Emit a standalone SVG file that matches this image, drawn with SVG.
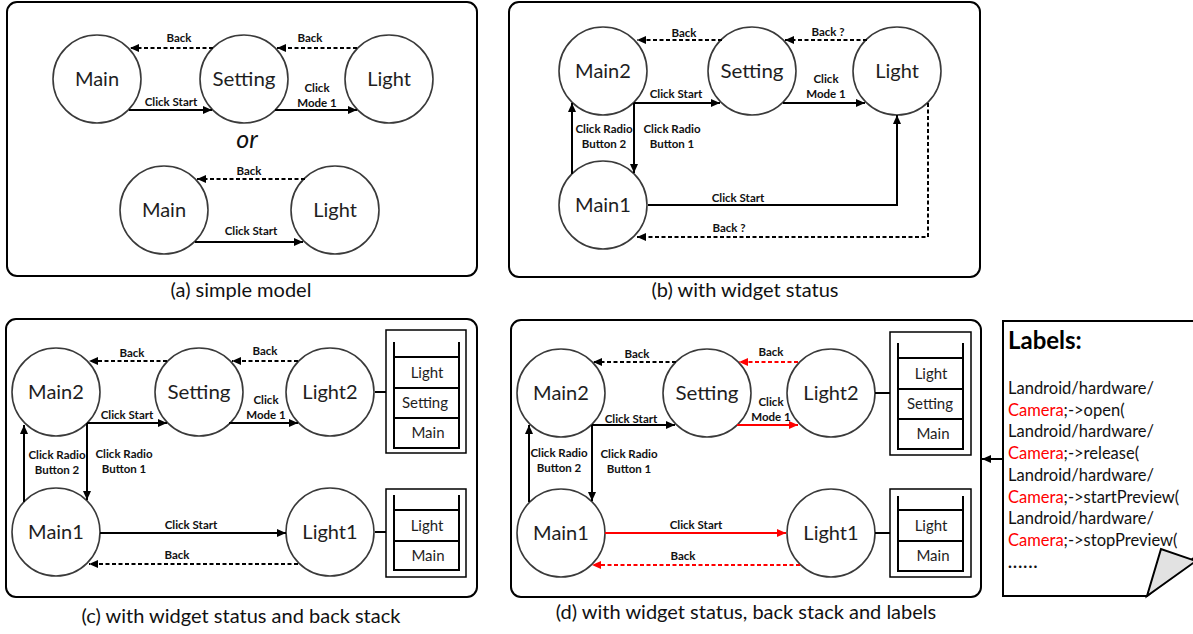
<svg xmlns="http://www.w3.org/2000/svg" width="1193" height="634" viewBox="0 0 1193 634">
  <defs>
    <marker id="ah" markerUnits="userSpaceOnUse" markerWidth="9" markerHeight="8" refX="9" refY="4" orient="auto">
      <path d="M0,0 L9,4 L0,8 z" fill="#000"/>
    </marker>
    <marker id="ahr" markerUnits="userSpaceOnUse" markerWidth="9" markerHeight="8" refX="9" refY="4" orient="auto">
      <path d="M0,0 L9,4 L0,8 z" fill="#f00"/>
    </marker>
  </defs>
  <style>
    .panel { fill: #fff; stroke: #000; stroke-width: 2; }
    .node circle { fill: #fff; stroke: #3a3a3a; stroke-width: 1.6; }
    .nt { font-family: Lato, "Liberation Sans", sans-serif; font-size: 20px; text-anchor: middle; fill: #1e1e1e; }
    .lb { font-family: Lato, "Liberation Sans", sans-serif; font-size: 11.5px; font-weight: bold; text-anchor: middle; fill: #111; }
    .cap { font-family: Lato, "Liberation Sans", sans-serif; font-size: 20px; text-anchor: middle; fill: #111; }
    .st { font-family: Lato, "Liberation Sans", sans-serif; font-size: 15px; text-anchor: middle; fill: #1e1e1e; }
    .ln { font-family: Lato, "Liberation Sans", sans-serif; font-size: 16.5px; fill: #111; }
    .edge { fill: none; stroke: #000; stroke-width: 2; marker-end: url(#ah); }
    .dash { stroke-dasharray: 4 2.5; }
    .red { stroke: #f00; marker-end: url(#ahr); }
    .plain { fill: none; stroke: #000; stroke-width: 2; }
    .outer { fill: #fff; stroke: #000; stroke-width: 1.5; }
  </style>

  <!-- panel frames -->
  <rect class="panel" x="7" y="2" width="470" height="274" rx="10"/>
  <rect class="panel" x="509" y="2" width="471" height="275" rx="10"/>
  <rect class="panel" x="6" y="319" width="471" height="278" rx="10"/>
  <rect class="panel" x="511" y="320" width="470" height="277" rx="10"/>

  <!-- (a) simple model -->
  <g id="a-main"><g class="node"><circle cx="97" cy="79" r="44"/></g><text class="nt" x="97" y="86">Main</text></g>
  <g id="a-setting"><g class="node"><circle cx="244" cy="79" r="44"/></g><text class="nt" x="244" y="86" textLength="63" lengthAdjust="spacingAndGlyphs">Setting</text></g>
  <g id="a-light"><g class="node"><circle cx="389" cy="79" r="44"/></g><text class="nt" x="389" y="86">Light</text></g>
  <g id="a-main-b"><g class="node"><circle cx="164" cy="210" r="44"/></g><text class="nt" x="164" y="217">Main</text></g>
  <g id="a-light-b"><g class="node"><circle cx="335" cy="210" r="44"/></g><text class="nt" x="335" y="217">Light</text></g>
  <text x="247" y="148" font-family="Lato, 'Liberation Sans', sans-serif" font-size="25" font-style="italic" text-anchor="middle" fill="#111">or</text>
  <text class="cap" x="241" y="297">(a) simple model</text>

  <g id="a-edges">
    <path class="edge dash" d="M213,48 H130"/>
    <path class="edge dash" d="M357,48 H277"/>
    <path class="edge" d="M129,110 H212"/>
    <path class="edge" d="M275,110 H357"/>
    <path class="edge dash" d="M305,179 H197"/>
    <path class="edge" d="M195,242 H303"/>
    <text class="lb" x="179" y="42">Back</text>
    <text class="lb" x="310" y="42">Back</text>
    <text class="lb" x="171" y="106">Click Start</text>
    <text class="lb" x="317" y="92">Click</text>
    <text class="lb" x="317" y="107">Mode 1</text>
    <text class="lb" x="249" y="175">Back</text>
    <text class="lb" x="251" y="235">Click Start</text>
  </g>

  <!-- (b) with widget status -->
  <g id="b-main2"><g class="node"><circle cx="603" cy="71" r="44"/></g><text class="nt" x="603" y="78">Main2</text></g>
  <g id="b-setting"><g class="node"><circle cx="752" cy="71" r="44"/></g><text class="nt" x="752" y="78" textLength="63" lengthAdjust="spacingAndGlyphs">Setting</text></g>
  <g id="b-light"><g class="node"><circle cx="897" cy="71" r="44"/></g><text class="nt" x="897" y="78">Light</text></g>
  <g id="b-main1"><g class="node"><circle cx="603" cy="205" r="44"/></g><text class="nt" x="603" y="212">Main1</text></g>
  <text class="cap" x="745" y="297">(b) with widget status</text>

  <g id="b-edges">
    <path class="edge dash" d="M722,40 H637"/>
    <path class="edge dash" d="M867,40 H785"/>
    <path class="edge" d="M634,103 H720"/>
    <path class="edge" d="M783,103 H865"/>
    <path class="edge" d="M634,103 V173"/>
    <path class="edge" d="M572,174 V103"/>
    <path class="edge" d="M648,205 H897 V115"/>
    <path class="edge dash" d="M928,103 V237 H637"/>
    <text class="lb" x="684" y="37">Back</text>
    <text class="lb" x="828" y="36">Back ?</text>
    <text class="lb" x="676" y="98">Click Start</text>
    <text class="lb" x="826" y="83">Click</text>
    <text class="lb" x="826" y="98">Mode 1</text>
    <text class="lb" x="672" y="133">Click Radio</text>
    <text class="lb" x="672" y="148">Button 1</text>
    <text class="lb" x="604" y="133">Click Radio</text>
    <text class="lb" x="604" y="148">Button 2</text>
    <text class="lb" x="738" y="202">Click Start</text>
    <text class="lb" x="729" y="232">Back ?</text>
  </g>

  <!-- (c) with widget status and back stack -->
  <g id="c-main2"><g class="node"><circle cx="56" cy="392" r="44"/></g><text class="nt" x="56" y="399">Main2</text></g>
  <g id="c-setting"><g class="node"><circle cx="199" cy="392" r="44"/></g><text class="nt" x="199" y="399" textLength="63" lengthAdjust="spacingAndGlyphs">Setting</text></g>
  <g id="c-light2"><g class="node"><circle cx="330" cy="392" r="44"/></g><text class="nt" x="330" y="399">Light2</text></g>
  <g id="c-main1"><g class="node"><circle cx="56" cy="532" r="44"/></g><text class="nt" x="56" y="539">Main1</text></g>
  <g id="c-light1"><g class="node"><circle cx="330" cy="532" r="44"/></g><text class="nt" x="330" y="539">Light1</text></g>
  <g id="c-stack2">
    <rect class="outer" x="386" y="330" width="80" height="123"/>
    <path class="plain" d="M394,342 V448 H459 V342 M394,357 H459 M394,388 H459 M394,418 H459"/>
    <text class="st" x="427" y="378">Light</text>
    <text class="st" x="425" y="408">Setting</text>
    <text class="st" x="428" y="438">Main</text>
  </g>
  <g id="c-stack1">
    <rect class="outer" x="386" y="489" width="80" height="88"/>
    <path class="plain" d="M394,495 V570 H459 V495 M394,510 H459 M394,541 H459"/>
    <text class="st" x="427" y="531">Light</text>
    <text class="st" x="428" y="561">Main</text>
  </g>
  <text class="cap" x="241" y="623">(c) with widget status and back stack</text>

  <g id="c-edges">
    <path class="edge dash" d="M167,361 H89"/>
    <path class="edge dash" d="M298,361 H232"/>
    <path class="edge" d="M87,423 H167"/>
    <path class="edge" d="M229,423 H298"/>
    <path class="edge" d="M87,423 V500"/>
    <path class="edge" d="M24,502 V425"/>
    <path class="edge" d="M100,533 H286"/>
    <path class="edge dash" d="M298,564 H89"/>
    <path class="plain" d="M375,392 H386 M375,532 H386"/>
    <text class="lb" x="132" y="357">Back</text>
    <text class="lb" x="265" y="355">Back</text>
    <text class="lb" x="127" y="419">Click Start</text>
    <text class="lb" x="266" y="404">Click</text>
    <text class="lb" x="266" y="419">Mode 1</text>
    <text class="lb" x="124" y="458">Click Radio</text>
    <text class="lb" x="124" y="473">Button 1</text>
    <text class="lb" x="57" y="459">Click Radio</text>
    <text class="lb" x="57" y="474">Button 2</text>
    <text class="lb" x="191" y="529">Click Start</text>
    <text class="lb" x="177" y="559">Back</text>
  </g>

  <!-- (d) with widget status, back stack and labels -->
  <g id="d-main2"><g class="node"><circle cx="561" cy="393" r="44"/></g><text class="nt" x="561" y="400">Main2</text></g>
  <g id="d-setting"><g class="node"><circle cx="707" cy="393" r="44"/></g><text class="nt" x="707" y="400" textLength="63" lengthAdjust="spacingAndGlyphs">Setting</text></g>
  <g id="d-light2"><g class="node"><circle cx="831" cy="393" r="44"/></g><text class="nt" x="831" y="400">Light2</text></g>
  <g id="d-main1"><g class="node"><circle cx="561" cy="533" r="44"/></g><text class="nt" x="561" y="540">Main1</text></g>
  <g id="d-light1"><g class="node"><circle cx="831" cy="533" r="44"/></g><text class="nt" x="831" y="540">Light1</text></g>
  <g id="d-stack2">
    <rect class="outer" x="890" y="332" width="81" height="123"/>
    <path class="plain" d="M898,343 V449 H963 V343 M898,358 H963 M898,389 H963 M898,419 H963"/>
    <text class="st" x="931" y="379">Light</text>
    <text class="st" x="930" y="409">Setting</text>
    <text class="st" x="933" y="439">Main</text>
  </g>
  <g id="d-stack1">
    <rect class="outer" x="890" y="489" width="81" height="88"/>
    <path class="plain" d="M898,496 V571 H963 V496 M898,510 H963 M898,541 H963"/>
    <text class="st" x="931" y="531">Light</text>
    <text class="st" x="933" y="561">Main</text>
  </g>
  <text class="cap" x="746" y="619">(d) with widget status, back stack and labels</text>

  <g id="d-edges">
    <path class="edge dash" d="M676,362 H593"/>
    <path class="edge dash red" d="M798,362 H739"/>
    <path class="edge" d="M592,425 H675"/>
    <path class="edge red" d="M737,425 H798"/>
    <path class="edge" d="M592,425 V501"/>
    <path class="edge" d="M529,502 V425"/>
    <path class="edge red" d="M605,533 H786"/>
    <path class="edge dash red" d="M800,565 H592"/>
    <path class="plain" d="M875,393 H890 M875,533 H890"/>
    <path class="edge" d="M1003,459 H982"/>
    <text class="lb" x="637" y="358">Back</text>
    <text class="lb" x="771" y="356">Back</text>
    <text class="lb" x="631" y="423">Click Start</text>
    <text class="lb" x="771" y="406">Click</text>
    <text class="lb" x="771" y="421">Mode 1</text>
    <text class="lb" x="629" y="458">Click Radio</text>
    <text class="lb" x="629" y="473">Button 1</text>
    <text class="lb" x="559" y="457">Click Radio</text>
    <text class="lb" x="559" y="472">Button 2</text>
    <text class="lb" x="696" y="529">Click Start</text>
    <text class="lb" x="683" y="560">Back</text>
  </g>

  <!-- labels note with folded corner -->
  <g id="labels-note">
    <path d="M1195,321 H1003 V596 H1147 L1196,556" fill="#fff" stroke="#000" stroke-width="2"/>
    <polygon points="1147,596 1161,549 1196,561" fill="#e2e2e2" stroke="#000" stroke-width="2" stroke-linejoin="miter"/>
    <text x="1008" y="349" font-family="Lato, 'Liberation Sans', sans-serif" font-size="24" font-weight="bold" fill="#000">Labels:</text>
    <text class="ln" x="1008" y="394">Landroid/hardware/</text>
    <text class="ln" x="1008" y="416"><tspan fill="#f00">Camera</tspan>;-&gt;open(</text>
    <text class="ln" x="1008" y="437">Landroid/hardware/</text>
    <text class="ln" x="1008" y="459"><tspan fill="#f00">Camera</tspan>;-&gt;release(</text>
    <text class="ln" x="1008" y="481">Landroid/hardware/</text>
    <text class="ln" x="1008" y="503"><tspan fill="#f00">Camera</tspan>;-&gt;startPreview(</text>
    <text class="ln" x="1008" y="524">Landroid/hardware/</text>
    <text class="ln" x="1008" y="546"><tspan fill="#f00">Camera</tspan>;-&gt;stopPreview(</text>
    <text class="ln" x="1008" y="568" font-weight="bold" letter-spacing="1.2">......</text>
  </g>
</svg>
